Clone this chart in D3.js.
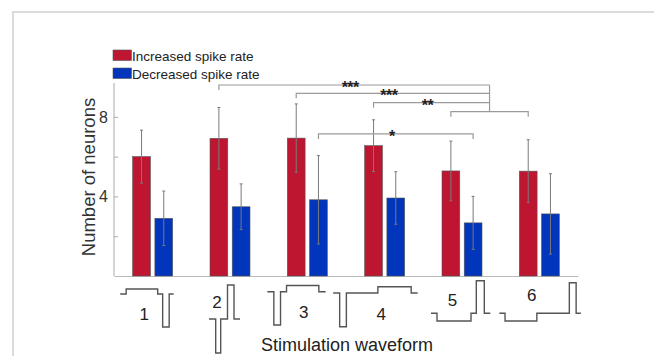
<!DOCTYPE html>
<html><head><meta charset="utf-8">
<script src="https://cdn.jsdelivr.net/npm/d3@7"></script>
<style>body{margin:0;background:#fff}svg{display:block;font-family:"Liberation Sans",Arial,sans-serif}</style>
</head><body><svg id="c" width="654" height="356"></svg>
<script>
const groups = ["1","2","3","4","5","6"];
const seriesNames = ["Increased spike rate","Decreased spike rate"];
const increased = [6.0, 6.92, 6.93, 6.55, 5.28, 5.27];
const increasedErr = [1.33, 1.55, 1.72, 1.3, 1.5, 1.58];
const decreased = [2.9, 3.48, 3.83, 3.92, 2.67, 3.12];
const decreasedErr = [1.37, 1.15, 2.22, 1.32, 1.33, 2.02];
const yTicks = [2, 4, 6, 8];
const yTickLabels = ["", "4", "", "8"];
// significance brackets: from [group, series] to hub; level in data units
const sigs = [
  {from:[1,0], to:"hub", level:9.6, label:"***"},
  {from:[2,0], to:"hub", level:9.18, label:"***"},
  {from:[3,0], to:"hub", level:8.71, label:"**"},
  {from:[2,1], to:[4,1], level:7.14, label:"*"}
];
const hub = {groups:[4,5], series:0, level:8.26};

const colors = ["#BE1631", "#0035BC"];
const svg = d3.select("#c");

// frame
svg.append("path").attr("d","M13,356V12H654").attr("fill","none").attr("stroke","#cfcfcf").attr("stroke-width",1.5);

const x = d3.scaleBand().domain(groups).range([114, 578]);
const y = d3.scaleLinear().domain([0, 9.7]).range([276, 83]);
const sub = d3.scaleBand().domain([0,1]).range([-20, 20]).paddingInner(0.2);
const bx = (g, s) => x(groups[g]) + x.bandwidth()/2 + sub(s);
const bc = (g, s) => bx(g, s) + sub.bandwidth()/2;

// axes
const yAxis = svg.append("g").attr("transform","translate(114,0)")
  .call(d3.axisRight(y).tickValues(yTicks).tickSize(4).tickFormat((d,i)=>""));
yAxis.select(".domain").attr("stroke","#aaa").attr("d","M0,83V276");
yAxis.selectAll(".tick line").attr("stroke","#aaa");
yTicks.forEach((t,i)=>{
  if (yTickLabels[i]) svg.append("text").attr("x",108).attr("y",y(t)+6).attr("text-anchor","end")
    .attr("font-size",16).attr("fill","#333").text(yTickLabels[i]);
});
const xAxis = svg.append("g").attr("transform","translate(0,276)")
  .call(d3.axisBottom(x).tickSize(0).tickFormat(""));
xAxis.select(".domain").attr("stroke","#bbb");

svg.append("text").attr("transform","translate(95,177) rotate(-90)").attr("text-anchor","middle")
  .attr("font-size",18.5).attr("fill","#333").text("Number of neurons");

// bars
const series = [[increased, increasedErr],[decreased, decreasedErr]];
series.forEach(([vals, errs], s) => {
  vals.forEach((v, g) => {
    svg.append("rect").attr("x", bx(g,s)).attr("y", y(v)).attr("width", sub.bandwidth())
      .attr("height", y(0)-y(v)).attr("fill", colors[s]).attr("stroke","#555").attr("stroke-width",0.6);
  });
});
series.forEach(([vals, errs], s) => {
  vals.forEach((v, g) => {
    const cx = bc(g,s), t = y(v+errs[g]), b = y(v-errs[g]);
    svg.append("path").attr("d",`M${cx},${t}V${b}M${cx-1.5},${t}H${cx+1.5}M${cx-1.5},${b}H${cx+1.5}`)
      .attr("stroke","#7a7a7a").attr("stroke-width",1).attr("fill","none");
  });
});

// brackets
const bst = {stroke:"#9a9a9a", "stroke-width":1.2, fill:"none"};
function line(d){ const p = svg.append("path").attr("d",d); Object.entries(bst).forEach(([k,v])=>p.attr(k,v)); }
const hubL = bc(hub.groups[0],hub.series), hubR = bc(hub.groups[1],hub.series), hubX = (hubL+hubR)/2;
const hubY = y(hub.level);
line(`M${hubL},${hubY+5}V${hubY}H${hubR}V${hubY+5}`);
const topHub = Math.min(...sigs.filter(s=>s.to==="hub").map(s=>y(s.level)));
line(`M${hubX},${topHub}V${hubY}`);
sigs.forEach(s => {
  const xl = bc(s.from[0], s.from[1]);
  const xr = s.to==="hub" ? hubX : bc(s.to[0], s.to[1]);
  const ly = y(s.level);
  if (s.to==="hub") line(`M${xl},${ly+5}V${ly}H${xr}`);
  else line(`M${xl},${ly+5}V${ly}H${xr}V${ly+5}`);
  svg.append("text").attr("x",(xl+xr)/2-4).attr("y",ly+8).attr("text-anchor","middle")
    .attr("font-size",16).attr("font-weight","bold").attr("letter-spacing",-0.5).attr("fill","#222").text(s.label);
});

// legend
seriesNames.forEach((n,i)=>{
  svg.append("rect").attr("x",113).attr("y",50+i*18).attr("width",18.5).attr("height",10.5)
    .attr("fill",colors[i]).attr("stroke","#555").attr("stroke-width",0.6);
  svg.append("text").attr("x",132).attr("y",60.5+i*18).attr("font-size",13.5).attr("fill","#222").text(n);
});

// stimulation waveform icons (relative to group centre)
const waveforms = [
  [[-32.5,294],[-26.5,294],[-26.5,289],[5,289],[5,294],[10,294],[10,327],[16.5,327],[16.5,294],[21,294]],
  [[-21,319],[-14.3,319],[-14.3,353],[-9.3,353],[-9.3,319],[-2.5,319],[-2.5,285],[4,285],[4,319],[10,319]],
  [[-40,291.7],[-33.5,291.7],[-33.5,325],[-26.8,325],[-26.8,291.7],[-20.8,291.7],[-20.8,285.5],[11.5,285.5],[11.5,291.7],[18.3,291.7]],
  [[-51.5,293],[-45,293],[-45,326.7],[-38.3,326.7],[-38.3,293],[-6.8,293],[-6.8,286.7],[26.5,286.7],[26.5,293],[33,293]],
  [[-31,313.3],[-25,313.3],[-25,321],[9,321],[9,313.3],[14.3,313.3],[14.3,280.7],[22.3,280.7],[22.3,313.3],[28.3,313.3]],
  [[-40,313.3],[-34.3,313.3],[-34.3,321],[-2.5,321],[-2.5,313.3],[30,313.3],[30,282.7],[36.8,282.7],[36.8,313.3],[41.5,313.3]]
];
const labelPos = [[-8.5,314],[-13,302],[-3.5,312],[-3.5,314],[-9.5,300],[-7.5,295]];
const lineGen = d3.line();
groups.forEach((g,i)=>{
  const cx = x(g)+x.bandwidth()/2;
  svg.append("path").attr("d", lineGen(waveforms[i].map(p=>[cx+p[0],p[1]])))
    .attr("fill","none").attr("stroke","#555").attr("stroke-width",1.4);
  svg.append("text").attr("x",cx+labelPos[i][0]).attr("y",labelPos[i][1]+6).attr("text-anchor","middle")
    .attr("font-size",17).attr("fill","#222").text(g);
});
svg.append("text").attr("x",347).attr("y",351).attr("text-anchor","middle").attr("font-size",18)
  .attr("fill","#222").text("Stimulation waveform");
</script></body></html>
